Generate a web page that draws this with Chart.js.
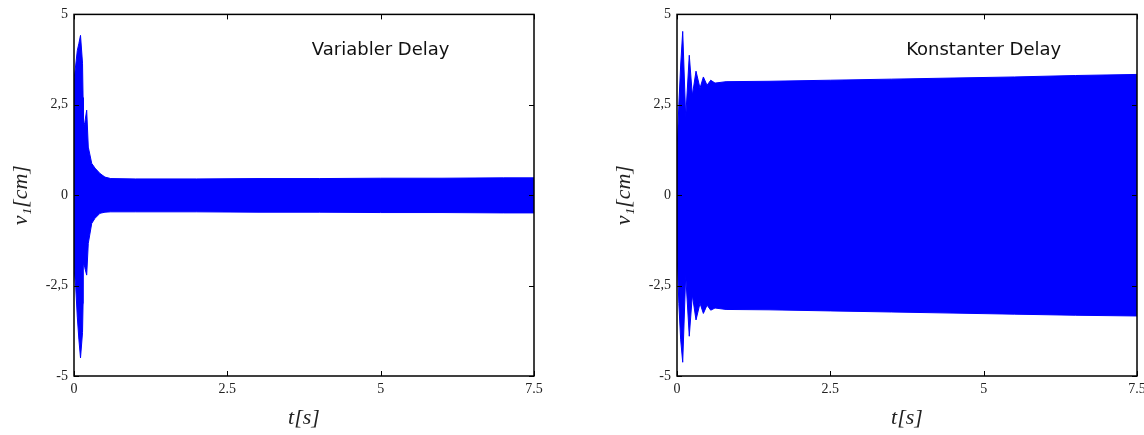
<!DOCTYPE html>
<html>
<head>
<meta charset="utf-8">
<script src="https://cdn.jsdelivr.net/npm/chart.js@4/dist/chart.umd.min.js"></script>
<style>
  html, body { margin: 0; padding: 0; background: #fff; overflow: hidden; }
  .panel { position: absolute; top: 0; height: 435px; width: 560px; }
</style>
</head>
<body>
<div class="panel" style="left:0"><canvas id="cVar" width="560" height="435"></canvas></div>
<div class="panel" style="left:603px"><canvas id="cKon" width="560" height="435"></canvas></div>
<script>
// envelope of v1 (time in s, value in cm)
var timeVar  = [0, 0.028, 0.054, 0.08, 0.106, 0.139, 0.148, 0.152, 0.175, 0.207, 0.233, 0.289, 0.342, 0.424, 0.505, 0.6, 1, 2, 3, 4, 5, 6, 7, 7.5];
var upperVar = [3.2, 3.6, 4.0, 4.2, 4.42, 3.65, 2.7, 1.9, 2.0, 2.35, 1.33, 0.88, 0.75, 0.6, 0.5, 0.46, 0.45, 0.45, 0.46, 0.46, 0.47, 0.47, 0.48, 0.48];
var lowerVar = [-2.0, -2.54, -3.37, -4.0, -4.5, -3.8, -3.0, -1.88, -2.0, -2.21, -1.33, -0.78, -0.64, -0.5, -0.47, -0.46, -0.46, -0.46, -0.47, -0.47, -0.48, -0.48, -0.49, -0.49];

var timeKon  = [0, 0.03, 0.06, 0.093, 0.142, 0.2, 0.25, 0.31, 0.375, 0.43, 0.49, 0.55, 0.62, 0.8, 1.5, 2.5, 3.5, 4.5, 5.5, 6.5, 7.5];
var upperKon = [1.2, 2.5, 3.6, 4.53, 2.15, 3.87, 2.76, 3.43, 2.96, 3.27, 3.04, 3.18, 3.1, 3.14, 3.15, 3.18, 3.21, 3.24, 3.27, 3.31, 3.34];
var lowerKon = [-1.5, -3.0, -4.0, -4.62, -2.21, -3.9, -2.76, -3.45, -2.99, -3.27, -3.04, -3.18, -3.12, -3.16, -3.17, -3.2, -3.23, -3.26, -3.29, -3.32, -3.34];

var xTicks = [0, 2.5, 5, 7.5];
var xTickLabels = ['0', '2.5', '5', '7.5'];
var yTicks = [-5, -2.5, 0, 2.5, 5];
var yTickLabels = ['-5', '-2,5', '0', '2,5', '5'];

var BLUE = '#0000ff';
var serif = '"Liberation Serif", "DejaVu Serif", serif';

function pts(t, v) {
  return t.map(function (x, i) { return { x: x, y: v[i] }; });
}

// box around the plot and inward ticks on all four sides
var frame = {
  id: 'frame',
  afterDraw: function (chart, args, opts) {
    var c = chart.ctx, a = chart.chartArea;
    var xs = chart.scales.x, ys = chart.scales.y;
    c.save();
    c.strokeStyle = '#000';
    c.lineWidth = 1.5;
    c.strokeRect(a.left, a.top, a.right - a.left, a.bottom - a.top);
    c.lineWidth = 1;
    c.beginPath();
    xTicks.forEach(function (v) {
      var px = Math.round(xs.getPixelForValue(v)) + 0.5;
      c.moveTo(px, a.bottom); c.lineTo(px, a.bottom - 5);
      c.moveTo(px, a.top); c.lineTo(px, a.top + 5);
    });
    yTicks.forEach(function (v) {
      var py = Math.round(ys.getPixelForValue(v)) + 0.5;
      c.moveTo(a.left, py); c.lineTo(a.left + 5, py);
      c.moveTo(a.right, py); c.lineTo(a.right - 5, py);
    });
    c.stroke();
    // label inside the plot
    c.fillStyle = '#111';
    c.font = '18px "DejaVu Sans", sans-serif';
    c.textAlign = 'center';
    c.textBaseline = 'middle';
    c.fillText(opts.text, xs.getPixelForValue(5), ys.getPixelForValue(4.0));
    c.restore();
  }
};

function makeChart(id, t, up, lo, label) {
  return new Chart(document.getElementById(id), {
    type: 'line',
    data: {
      datasets: [
        { data: pts(t, up), borderColor: BLUE, backgroundColor: BLUE, borderWidth: 1, pointRadius: 0, fill: '+1', tension: 0 },
        { data: pts(t, lo), borderColor: BLUE, backgroundColor: BLUE, borderWidth: 1, pointRadius: 0, fill: false, tension: 0 }
      ]
    },
    options: {
      responsive: false,
      animation: false,
      devicePixelRatio: 1,
      layout: { padding: { top: 14, right: 26, bottom: 0, left: 0 } },
      plugins: { legend: { display: false }, tooltip: { enabled: false }, frame: { text: label } },
      scales: {
        x: {
          type: 'linear', min: 0, max: 7.5,
          afterBuildTicks: function (s) { s.ticks = xTicks.map(function (v) { return { value: v }; }); },
          afterFit: function (s) { s.height = 59; },
          grid: { display: false, drawTicks: false },
          border: { display: false },
          ticks: {
            padding: 5, color: '#222', maxRotation: 0,
            font: { family: serif, size: 14 },
            callback: function (v) { return xTickLabels[xTicks.indexOf(v)]; }
          },
          title: { display: true, text: 't[s]', color: '#222', padding: { top: 0, bottom: 4 },
                   font: { family: serif, size: 22, style: 'italic' } }
        },
        y: {
          min: -5, max: 5,
          afterBuildTicks: function (s) { s.ticks = yTicks.map(function (v) { return { value: v }; }); },
          afterFit: function (s) { s.width = 74; },
          grid: { display: false, drawTicks: false },
          border: { display: false },
          ticks: {
            padding: 6, color: '#222',
            font: { family: serif, size: 14 },
            callback: function (v) { return yTickLabels[yTicks.indexOf(v)]; }
          },
          title: { display: true, text: 'v\u2081[cm]', color: '#222', padding: { top: 8, bottom: 0 },
                   font: { family: serif, size: 22, style: 'italic' } }
        }
      }
    },
    plugins: [frame]
  });
}

makeChart('cVar', timeVar, upperVar, lowerVar, 'Variabler Delay');
makeChart('cKon', timeKon, upperKon, lowerKon, 'Konstanter Delay');
</script>
</body>
</html>
